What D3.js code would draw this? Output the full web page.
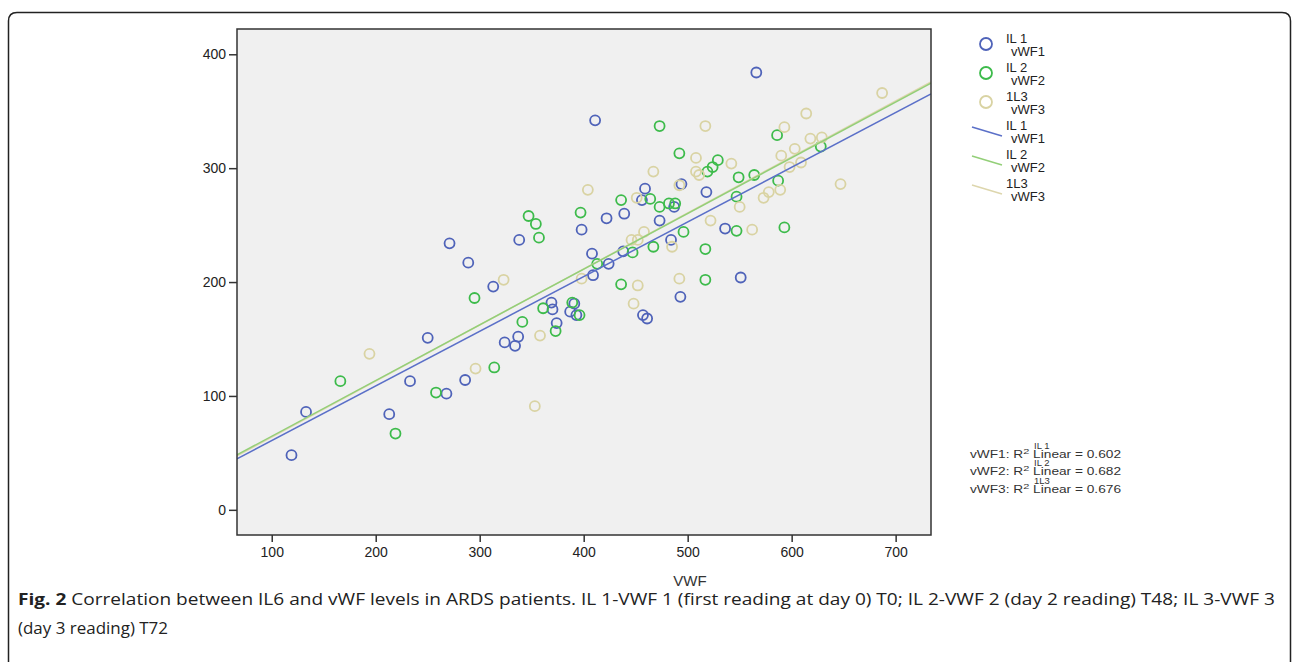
<!DOCTYPE html>
<html>
<head>
<meta charset="utf-8">
<script src="https://cdn.jsdelivr.net/npm/d3@7"></script>
<style>
  body { margin: 0; background: #fff; }
  svg { display: block; }
</style>
</head>
<body>
<div id="chart"></div>
<script>
// series: [vWF, IL6] pairs
const vwf1 = [[119,48],[133,86],[213,84],[233,113],[268,102],[286,114],[250,151],[271,234],[289,217],[313,196],
  [324,147],[334,144],[337,152],[338,237],[369,182],[370,176],[374,164],[387,174],[391,181],[393,171],
  [398,246],[408,225],[409,206],[411,342],[422,256],[424,216],[438,227],[439,260],[456,272],[457,171],
  [459,282],[461,168],[473,254],[484,237],[487,266],[493,187],[494,286],[518,279],[536,247],[551,204],[566,384]];
const vwf2 = [[166,113],[219,67],[258,103],[295,186],[314,125],[341,165],[347,258],[354,251],[357,239],[361,177],
  [373,157],[389,182],[396,171],[397,261],[413,216],[436,272],[436,198],[447,226],[464,273],[467,231],
  [473,266],[473,337],[482,269],[488,269],[492,313],[496,244],[517,229],[517,202],[519,297],[524,301],
  [529,307],[547,275],[547,245],[549,292],[564,294],[586,329],[587,289],[593,248],[628,319]];
const vwf3 = [[194,137],[296,124],[323,202],[353,91],[358,153],[398,203],[404,281],[446,237],[448,181],[451,274],
  [452,237],[452,197],[458,244],[467,297],[485,231],[492,203],[492,285],[508,309],[508,297],[511,294],
  [517,337],[522,254],[542,304],[550,266],[562,246],[573,274],[578,279],[589,281],[590,311],[593,336],
  [598,301],[603,317],[609,305],[614,348],[618,326],[629,327],[647,286],[687,366]];

// fit lines [intercept, slope] and R² values as printed
const fitLines = [[12.8, 0.480], [15.7, 0.489], [14.7, 0.492]];
const rSquared = ['0.602', '0.682', '0.676'];
const groupNames = ['IL 1', 'IL 2', '1L3'];
const vwfNames = ['vWF1', 'vWF2', 'vWF3'];
const xTicks = [100, 200, 300, 400, 500, 600, 700];
const yTicks = [0, 100, 200, 300, 400];

const dotColors = ['#4f63b9', '#3dbb4b', '#d9d3a3'];
const lineColors = ['#5b70c8', '#93cf78', '#ddd6ad'];

const W = 1292, H = 662;
const plot = { left: 237, top: 29, right: 931, bottom: 535 };
const FONT = '"Liberation Sans", Arimo, Arial, sans-serif';

const svg = d3.select('#chart').append('svg')
  .attr('width', W).attr('height', H)
  .style('font-family', FONT);

// outer frame (open at the bottom)
svg.append('path')
  .attr('d', `M8.5,${H} L8.5,21 Q8.5,12.5 17,12.5 L1282,12.5 Q1290.5,12.5 1290.5,21 L1290.5,${H}`)
  .attr('fill', 'none').attr('stroke', '#222').attr('stroke-width', 1.5);

const x = d3.scaleLinear().domain([66.6, 734]).range([plot.left, plot.right]);
const y = d3.scaleLinear().domain([-22.1, 422.2]).range([plot.bottom, plot.top]);

svg.append('rect')
  .attr('x', plot.left).attr('y', plot.top)
  .attr('width', plot.right - plot.left).attr('height', plot.bottom - plot.top)
  .attr('fill', '#f0f0f0');

const gPlot = svg.append('g');
gPlot.append('clipPath').attr('id', 'clip')
  .append('rect').attr('x', plot.left).attr('y', plot.top)
  .attr('width', plot.right - plot.left).attr('height', plot.bottom - plot.top);

// scatter
[vwf1, vwf2, vwf3].forEach((pts, i) => {
  gPlot.append('g').selectAll('circle').data(pts).enter().append('circle')
    .attr('cx', d => x(d[0])).attr('cy', d => y(d[1]))
    .attr('r', 5)
    .attr('fill', 'none')
    .attr('stroke', dotColors[i])
    .attr('stroke-width', 1.8);
});

// fit lines, drawn beige, green, blue
[2, 1, 0].forEach(i => {
  const [b, m] = fitLines[i];
  const xs = x.domain();
  gPlot.append('line')
    .attr('clip-path', 'url(#clip)')
    .attr('x1', x(xs[0])).attr('y1', y(b + m * xs[0]))
    .attr('x2', x(xs[1])).attr('y2', y(b + m * xs[1]))
    .attr('stroke', lineColors[i]).attr('stroke-width', 1.5);
});

// plot border
svg.append('rect')
  .attr('x', plot.left).attr('y', plot.top)
  .attr('width', plot.right - plot.left).attr('height', plot.bottom - plot.top)
  .attr('fill', 'none').attr('stroke', '#333').attr('stroke-width', 1.5);

// axes
const xAxis = svg.append('g')
  .attr('transform', `translate(0,${plot.bottom})`)
  .call(d3.axisBottom(x).tickValues(xTicks).tickSize(7).tickPadding(5));
const yAxis = svg.append('g')
  .attr('transform', `translate(${plot.left},0)`)
  .call(d3.axisLeft(y).tickValues(yTicks).tickSize(8).tickPadding(3));
[xAxis, yAxis].forEach(a => {
  a.select('.domain').remove();
  a.selectAll('line').attr('stroke', '#333').attr('stroke-width', 1.5);
  a.selectAll('text').attr('fill', '#222').style('font-size', '14px')
    .style('font-family', FONT);
});

svg.append('text')
  .attr('x', 690).attr('y', 586)
  .attr('text-anchor', 'middle')
  .attr('fill', '#333')
  .style('font-size', '15px')
  .text('VWF');

// legend
const legend = svg.append('g').style('font-size', '13px').attr('fill', '#222');
groupNames.forEach((name, i) => {
  const cy = 44 + i * 29;
  legend.append('circle')
    .attr('cx', 986).attr('cy', cy).attr('r', 6)
    .attr('fill', 'none').attr('stroke', dotColors[i]).attr('stroke-width', 1.8);
  legend.append('text').attr('x', 1006).attr('y', cy - 1).text(name);
  legend.append('text').attr('x', 1011).attr('y', cy + 12).text(vwfNames[i]);

  const ly = 130 + i * 29;
  legend.append('line')
    .attr('x1', 972).attr('y1', ly - 3).attr('x2', 1002).attr('y2', ly + 6)
    .attr('stroke', lineColors[i]).attr('stroke-width', 1.5);
  legend.append('text').attr('x', 1006).attr('y', ly).text(name);
  legend.append('text').attr('x', 1011).attr('y', ly + 13).text(vwfNames[i]);
});

// R² annotations (group name stacked above "Linear", as SPSS prints it)
const rg = svg.append('g').style('font-size', '10px').attr('fill', '#333');
groupNames.forEach((name, i) => {
  const by = 457.5 + i * 17.5;
  rg.append('text').attr('x', 1034).attr('y', by - 9).style('font-size', '9.5px').text(name);
  const t = rg.append('text').attr('x', 970).attr('y', by)
    .attr('textLength', 151).attr('lengthAdjust', 'spacingAndGlyphs');
  t.append('tspan').text(vwfNames[i] + ': R');
  t.append('tspan').attr('dy', -4).style('font-size', '8px').text('2');
  t.append('tspan').attr('dy', 4).text(' Linear = ' + rSquared[i]);
});

// caption
const cap = svg.append('g')
  .style('font-family', '"Liberation Sans Narrow", "Open Sans", sans-serif')
  .style('font-size', '16.5px').attr('fill', '#222');
const line1 = cap.append('text').attr('x', 18).attr('y', 605)
  .attr('textLength', 1257).attr('lengthAdjust', 'spacingAndGlyphs');
line1.append('tspan').style('font-weight', 'bold').text('Fig. 2');
line1.append('tspan').text(' Correlation between IL6 and vWF levels in ARDS patients. IL 1-VWF 1 (first reading at day 0) T0; IL 2-VWF 2 (day 2 reading) T48; IL 3-VWF 3');
cap.append('text').attr('x', 18).attr('y', 634)
  .attr('textLength', 150).attr('lengthAdjust', 'spacingAndGlyphs')
  .text('(day 3 reading) T72');
</script>
</body>
</html>
